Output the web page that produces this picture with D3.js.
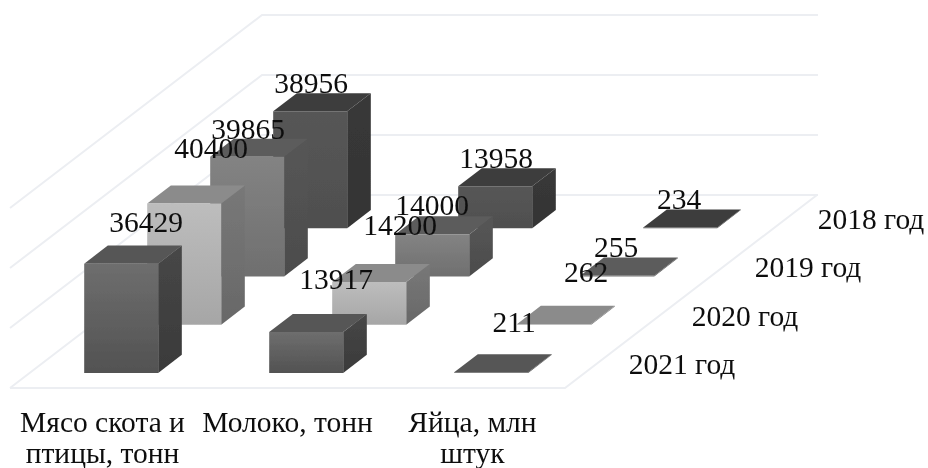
<!DOCTYPE html>
<html><head><meta charset="utf-8">
<script src="https://cdn.jsdelivr.net/npm/d3@7/dist/d3.min.js"></script>
<style>html,body{margin:0;padding:0;background:#fff}svg{display:block}text{font-family:"Liberation Serif",serif;fill:#111}</style>
</head><body><div id="c"></div>
<script>
const categories = [["Мясо скота и","птицы, тонн"],["Молоко, тонн"],["Яйца, млн","штук"]];
const years = ["2021 год","2020 год","2019 год","2018 год"];
const meat = [36429,40400,39865,38956];
const milk = [13600,14200,14000,13958];
const eggs = [211,262,255,234];
const shownLabels = [
  [36429,40400,39865,38956],
  [13917,14200,14000,13958],
  [211,262,255,234]
];
const valueTicks = [0,20000,40000,60000];
const series = [meat,milk,eggs];
// layout (label nudges in px by category, year)
const nudges = [
  [[25,-32],[27,-45],[1,-18],[1,-18]],
  [[30,-43],[31,-47],[0,-19],[1,-18]],
  [[23,-40],[32,-42],[-1,-19],[-1,-18]]
];
const shades = [
  {f0:"#6e6e6e",f1:"#525252",t:"#565656",s0:"#474747",s1:"#3a3a3a"},
  {f0:"#bdbdbd",f1:"#a6a6a6",t:"#8b8b8b",s0:"#787878",s1:"#686868"},
  {f0:"#838383",f1:"#6f6f6f",t:"#5c5c5c",s0:"#565656",s1:"#4c4c4c"},
  {f0:"#565656",f1:"#4f4f4f",t:"#3d3d3d",s0:"#383838",s1:"#343434"}
];
const W=928,H=468, left=10, right=565, floorY=388, depthPx=193, shear=252/193, fs=29.5;
const svg=d3.select("#c").append("svg").attr("width",W).attr("height",H);
const defs=svg.append("defs");
const blur=defs.append("filter").attr("id","b").attr("x","-5%").attr("y","-5%").attr("width","110%").attr("height","110%");
blur.append("feGaussianBlur").attr("stdDeviation",0.55);
shades.forEach((c,i)=>{
  [["f",c.f0,c.f1],["s",c.s0,c.s1]].forEach(([k,a,b])=>{
    const g=defs.append("linearGradient").attr("id",k+i).attr("x1",0).attr("y1",0).attr("x2",0).attr("y2",1);
    g.append("stop").attr("offset",0).attr("stop-color",a);
    g.append("stop").attr("offset",1).attr("stop-color",b);
  });
});
const xCat=d3.scaleBand().domain(d3.range(categories.length)).range([left,right]).paddingInner(0.6).paddingOuter(0.3);
const xCatLabel=d3.scaleBand().domain(d3.range(categories.length)).range([left,right]);
const zDepth=d3.scaleBand().domain(d3.range(years.length)).range([0,depthPx]).paddingInner(0.625).paddingOuter(0.3125);
const yVal=d3.scaleLinear().domain([0,60000]).range([0,180]);
const P=(u,d,z)=>[u+d*shear-1, floorY-d-z];
const line=d3.line();
const root=svg.append("g").attr("filter","url(#b)");
const grid=root.append("g").attr("fill","none").attr("stroke","#eceef2").attr("stroke-width",2);
valueTicks.forEach(v=>{
  const z=yVal(v);
  grid.append("path").attr("d",line([P(left+1,0,z),P(left+1,depthPx,z),[818,floorY-depthPx-z]]));
});
grid.append("path").attr("d",line([[left,floorY],[right,floorY],P(right+1,depthPx,0)]));
const bars=root.append("g");
d3.range(years.length).reverse().forEach(yi=>{
  series.forEach((vals,ci)=>{
    const u0=xCat(ci), u1=u0+xCat.bandwidth(), d0=zDepth(yi), d1=d0+zDepth.bandwidth(), h=yVal(vals[yi]);
    const g=bars.append("g");
    g.append("path").attr("d",line([P(u1,d0,0),P(u1,d1,0),P(u1,d1,h),P(u1,d0,h)])+"Z").attr("fill",`url(#s${yi})`);
    g.append("path").attr("d",line([P(u0,d0,h),P(u1,d0,h),P(u1,d1,h),P(u0,d1,h)])+"Z").attr("fill",shades[yi].t);
    g.append("path").attr("d",line([P(u0,d0,0),P(u1,d0,0),P(u1,d0,h),P(u0,d0,h)])+"Z").attr("fill",`url(#f${yi})`);
  });
});
const labels=root.append("g").attr("font-size",fs).attr("text-anchor","middle");
shownLabels.forEach((row,ci)=>row.forEach((v,yi)=>{
  const u=xCat(ci)+xCat.bandwidth()/2, d0=zDepth(yi), h=yVal(series[ci][yi]);
  const p=P(u,d0,h), n=nudges[ci][yi];
  labels.append("text").attr("x",p[0]+n[0]).attr("y",p[1]+n[1]).text(v);
}));
const yl=root.append("g").attr("font-size",fs);
years.forEach((t,yi)=>{
  const p=P(right,zDepth(yi),0);
  yl.append("text").attr("x",p[0]+45).attr("y",p[1]+1).text(t);
});
const cl=root.append("g").attr("font-size",fs).attr("text-anchor","middle");
categories.forEach((lines,ci)=>{
  const x=xCatLabel(ci)+xCatLabel.bandwidth()/2;
  lines.forEach((s,k)=>cl.append("text").attr("x",x).attr("y",432+k*31).text(s));
});
</script></body></html>
